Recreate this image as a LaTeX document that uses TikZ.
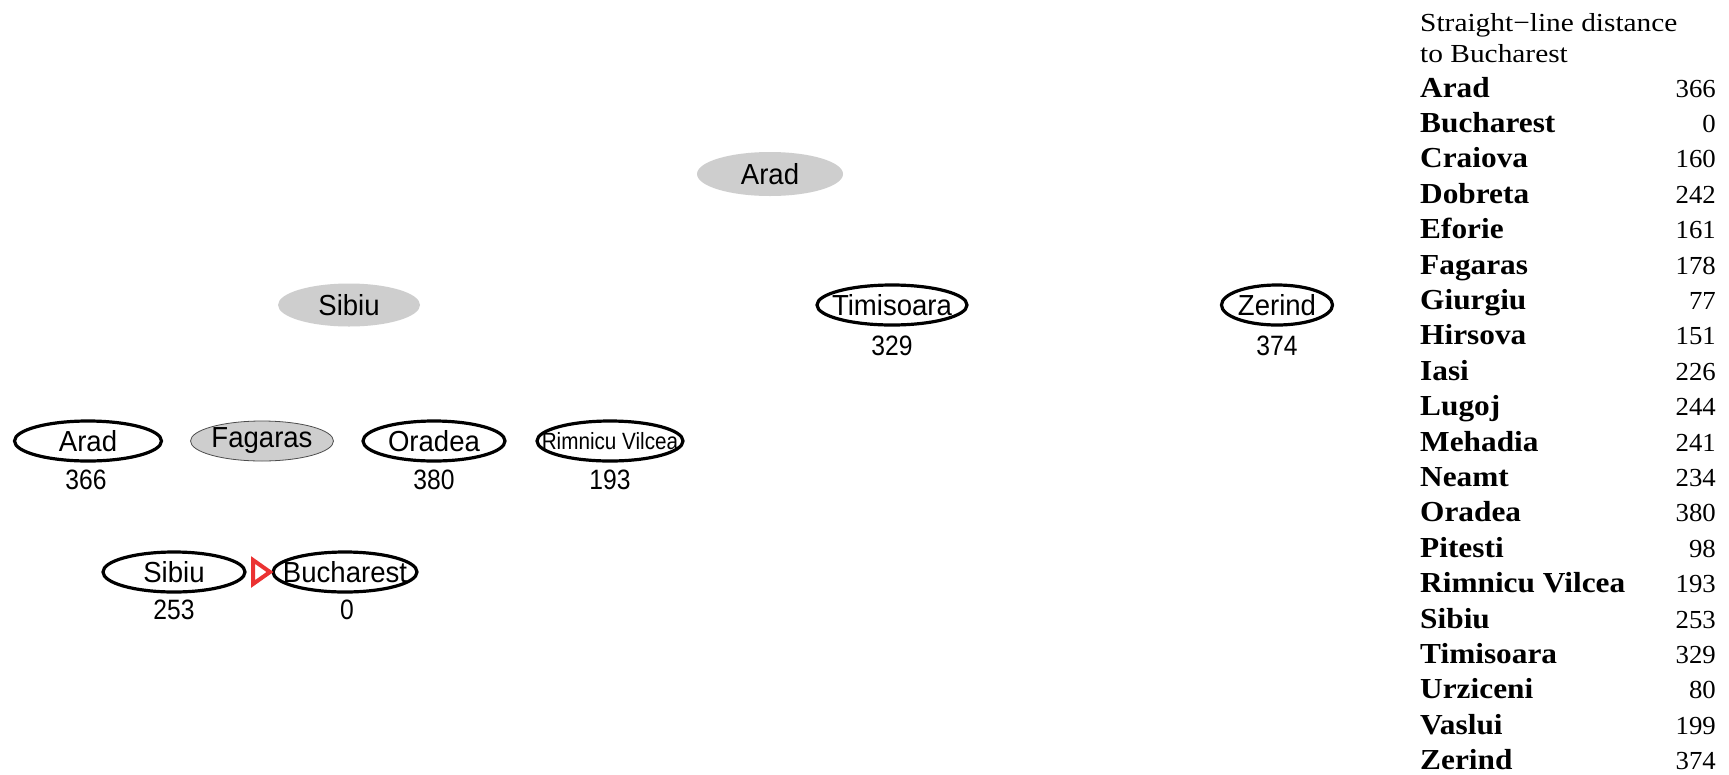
\documentclass[tikz,border=0pt]{standalone}
\usepackage{graphicx}
\usepackage{fontspec}
\setmainfont{Liberation Serif}
\newfontfamily\arialfont{Liberation Sans}
\usetikzlibrary{shapes.geometric}
\definecolor{nodegray}{RGB}{206,206,206}
\definecolor{arrowred}{RGB}{235,50,50}
% sans labels for the search tree; zero-width box so the ellipse keeps its set size
\newcommand{\tn}[1]{\makebox[0pt]{\scalebox{0.95}[1]{#1}}}
\newcommand{\tnum}[1]{\scalebox{0.88}[1]{#1}}
% table header, names and values
\newcommand{\thdr}[1]{\scalebox{1.13}[1]{#1}}
\newcommand{\tname}[1]{\scalebox{1.08}[1]{#1}}
\newcommand{\tval}[1]{\scalebox{1.03}[1]{#1}}
\begin{document}
\begin{tikzpicture}[x=1pt,y=-1pt,
  city/.style={ellipse, draw=black, line width=3.2pt, minimum width=143pt,
    minimum height=40pt, inner sep=0pt,
    font=\arialfont\fontsize{29}{29}\selectfont},
  expanded/.style={ellipse, fill=nodegray, minimum width=146pt,
    minimum height=44pt, inner sep=0pt,
    font=\arialfont\fontsize{29}{29}\selectfont},
  hval/.style={inner sep=0pt, font=\arialfont\fontsize{28}{28}\selectfont},
  hdr/.style={anchor=base west, inner sep=0pt, font=\fontsize{26}{26}\selectfont},
  sldname/.style={anchor=base west, inner sep=0pt,
    font=\fontsize{29}{29}\selectfont\bfseries},
  sldval/.style={anchor=base east, inner sep=0pt, font=\fontsize{26}{26}\selectfont}]

\path[use as bounding box, fill=white] (0,0) rectangle (1729,774);

% root
\node[expanded] (arad0) at (770,174) {\tn{Arad}};

% first level
\node[expanded, minimum width=142pt, minimum height=43pt] (sibiu1) at (349,305) {\tn{Sibiu}};
\node[city, minimum width=150pt] (tim1) at (892,305) {\tn{Timisoara}};
\node[hval] (tim1h) at (892,346) {\tnum{329}};
\node[city, minimum width=111pt] (zer1) at (1277,305) {\tn{Zerind}};
\node[hval] (zer1h) at (1277,346) {\tnum{374}};

% second level
\node[city, minimum width=147pt] (arad2) at (88,441) {\tn{Arad}};
\node[hval] (arad2h) at (86,480) {\tnum{366}};
\node[expanded, draw=black!70, line width=0.8pt, minimum width=143pt,
  minimum height=40pt] (fag2) at (262,441) {\tn{Fagaras}};
\node[city, minimum width=142pt] (ora2) at (434,441) {\tn{Oradea}};
\node[hval] (ora2h) at (434,480) {\tnum{380}};
\node[city, minimum width=146pt, font=\arialfont\fontsize{23.5}{23.5}\selectfont]
  (rim2) at (610,441) {\makebox[0pt]{\scalebox{0.88}[1]{Rimnicu Vilcea}}};
\node[hval] (rim2h) at (610,480) {\tnum{193}};

% third level
\node[city, minimum width=142pt] (sibiu3) at (174,572) {\tn{Sibiu}};
\node[hval] (sibiu3h) at (174,610) {\tnum{253}};
\node[city, minimum width=144pt] (buch3) at (345,572) {\tn{Bucharest}};
\node[hval] (buch3h) at (347,610) {\tnum{0}};

% open red marker between Sibiu and Bucharest
\draw[arrowred, line width=4pt, line join=miter]
  (253,560) -- (270,572) -- (253,584) -- cycle;

% straight-line distance table
\node[hdr] (hdr1) at (1420,31) {\thdr{Straight−line distance}};
\node[hdr] (hdr2) at (1420,62) {\thdr{to Bucharest}};
\foreach \c/\d [count=\i from 0] in {Arad/366, Bucharest/0, Craiova/160,
  Dobreta/242, Eforie/161, Fagaras/178, Giurgiu/77, Hirsova/151, Iasi/226,
  Lugoj/244, Mehadia/241, Neamt/234, Oradea/380, Pitesti/98,
  Rimnicu Vilcea/193, Sibiu/253, Timisoara/329, Urziceni/80, Vaslui/199,
  Zerind/374}{
  \node[sldname] (sn\i) at (1420,{97+35.4*\i}) {\tname{\c}};
  \node[sldval] (sv\i) at (1716,{97+35.4*\i}) {\tval{\d}};
}
\end{tikzpicture}
\end{document}
